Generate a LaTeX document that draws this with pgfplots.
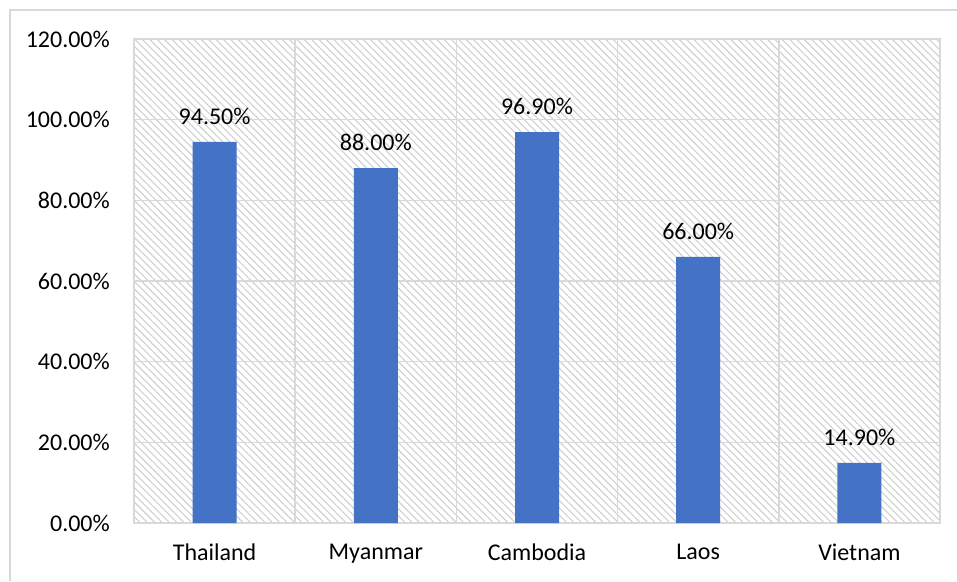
\documentclass[border=0pt]{standalone}
\usepackage{fontspec}
\setmainfont{Carlito}
\usepackage{pgfplots}
\pgfplotsset{compat=1.18}
\usetikzlibrary{patterns.meta}
\definecolor{barblue}{HTML}{4472C4}
\definecolor{gridgray}{HTML}{D9D9D9}
\definecolor{hatchgray}{HTML}{D0D0D0}
\begin{document}
\begin{tikzpicture}[x=1pt,y=1pt]
\useasboundingbox (0,0) rectangle (957,581);
\draw[gridgray, line width=1.5pt] (10,0) -- (10,571) -- (960,571);
\begin{axis}[
  at={(134pt,58pt)}, anchor=south west,
  scale only axis, width=806pt, height=484pt,
  xmin=-0.5, xmax=4.5, ymin=0, ymax=120,
  axis background/.style={pattern={Lines[angle=-45,distance=5.2pt,line width=1.1pt]}, pattern color=hatchgray},
  axis line style={gridgray, line width=1.5pt},
  xtick={0,1,2,3,4},
  xticklabels={Thailand,Myanmar,Cambodia,Laos,Vietnam},
  minor xtick={0.5,1.5,2.5,3.5},
  minor x grid style={gridgray, line width=1.5pt},
  xminorgrids=true,
  ytick={0,20,40,60,80,100,120},
  yticklabels={0.00\%,20.00\%,40.00\%,60.00\%,80.00\%,100.00\%,120.00\%},
  ymajorgrids=true,
  major grid style={gridgray, line width=1.5pt},
  major tick length=0pt, minor tick length=0pt,
  tick style={draw=none},
  xticklabel style={font=\fontsize{24}{28}\selectfont, anchor=north, inner sep=0pt, yshift=-21pt},
  yticklabel style={font=\fontsize{24}{28}\selectfont, anchor=east, inner sep=0pt, xshift=-24pt},
  every node near coord/.append style={font=\fontsize{24}{28}\selectfont, anchor=south, inner sep=0pt, yshift=17pt},
  axis on top=false,
]
\addplot[ybar, bar width=44pt, fill=barblue, draw=none, bar shift=0pt,
  point meta=explicit symbolic, nodes near coords]
  coordinates {(0,94.5) [94.50\%] (1,88.0) [88.00\%] (2,96.9) [96.90\%] (3,66.0) [66.00\%] (4,14.9) [14.90\%]};
\end{axis}
\end{tikzpicture}
\end{document}
